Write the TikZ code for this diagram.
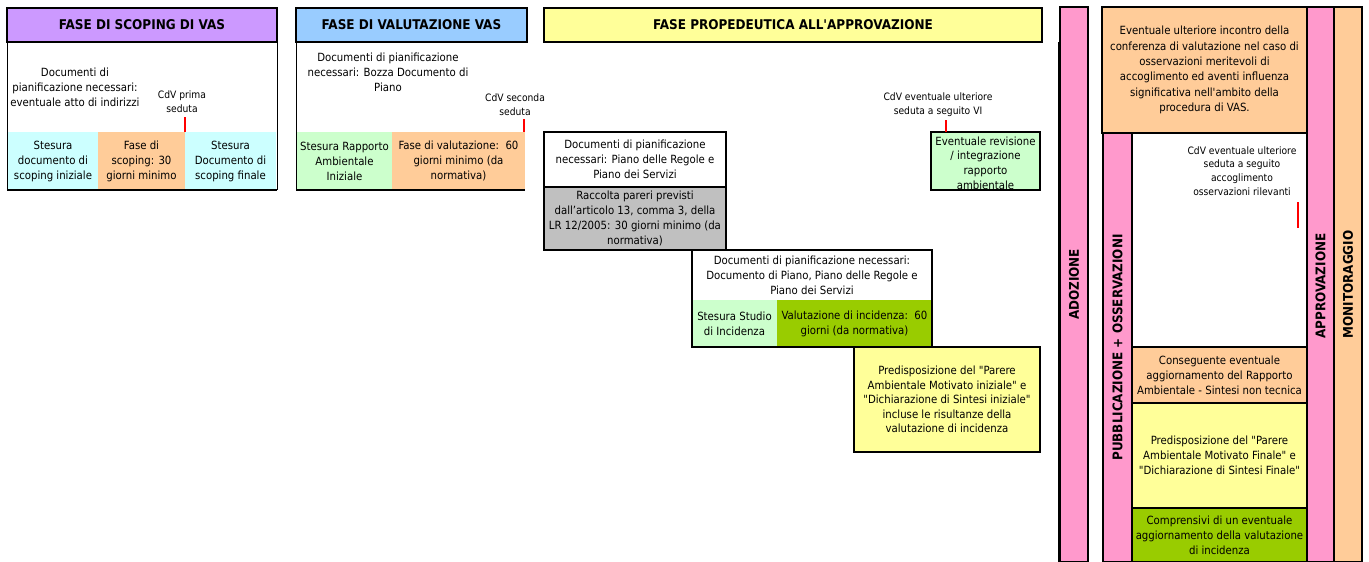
\documentclass[tikz,border=0pt]{standalone}
\usepackage{fontspec}
\setmainfont{DejaVu Sans Condensed}[Ligatures=TeXOff]
\definecolor{lilla}{HTML}{CC99FF}
\definecolor{azzurro}{HTML}{99CCFF}
\definecolor{giallo}{HTML}{FFFF99}
\definecolor{ciano}{HTML}{CCFFFF}
\definecolor{verdino}{HTML}{CCFFCC}
\definecolor{arancio}{HTML}{FFCC99}
\definecolor{grigio}{HTML}{C0C0C0}
\definecolor{verde}{HTML}{99CC00}
\definecolor{rosa}{HTML}{FF99CC}
\tikzset{
  txt/.style={align=center, inner sep=0pt, text=black, font=\fontsize{11.3}{15}\selectfont},
  small/.style={align=center, inner sep=0pt, font=\fontsize{10.2}{13.8}\selectfont},
  head/.style={inner sep=0pt, text=black, font=\fontsize{13.4}{15}\selectfont\bfseries},
  vlab/.style={rotate=90, inner sep=0pt, font=\fontsize{13.3}{15}\selectfont\bfseries},
  frame/.style={line width=2.5pt},
  bar/.style={line width=2pt},
  tick/.style={red, line width=2.5pt},
}
\begin{document}
\begin{tikzpicture}[x=1pt,y=-1pt]
  \useasboundingbox (0,0) rectangle (1369,562);

  \fill[fill=ciano] (8,132) rectangle (98,190) node (sc1) [pos=.5, txt] {Stesura\\documento di\\scoping iniziale};
  \fill[fill=arancio] (98,132) rectangle (185,190) node (sc2) [pos=.5, txt] {Fase di\\scoping: 30\\giorni minimo};
  \fill[fill=ciano] (185,132) rectangle (276,190) node (sc3) [pos=.5, txt] {Stesura\\Documento di\\scoping finale};
  \draw[line width=1pt] (7,42) -- (7,190) (277,42) -- (277,190);
  \draw[frame] (7,190) -- (277,190);
  \draw[fill=lilla, frame] (7,8) rectangle (277,42) node (scop) [pos=.5, head] {FASE DI SCOPING DI VAS};
  \node (scdoc) [txt] at (75,87) {Documenti di\\pianificazione necessari:\\eventuale atto di indirizzi};
  \node (cdv1) [small] at (182,102) {CdV prima\\seduta};
  \draw[tick] (185,117) -- (185,132);

  \fill[fill=verdino] (297,132) rectangle (392,190) node (va1) [pos=.5, txt] {Stesura Rapporto\\Ambientale\\Iniziale};
  \fill[fill=arancio] (392,132) rectangle (525,190) node (va2) [pos=.5, txt] {Fase di valutazione:~~60\\giorni minimo (da\\normativa)};
  \draw[line width=1pt] (296,42) -- (296,190);
  \draw[frame] (296,190) -- (525,190);
  \draw[fill=azzurro, frame] (296,8) rectangle (527,42) node (valu) [pos=.5, head] {FASE DI VALUTAZIONE VAS};
  \node (vadoc) [txt] at (388,72) {Documenti di pianificazione\\necessari: Bozza Documento di\\Piano};
  \node (cdv2) [small] at (515,105) {CdV seconda\\seduta};
  \draw[tick] (524,119) -- (524,132);

  \draw[fill=giallo, frame] (544,8) rectangle (1042,42) node (prop) [pos=.5, head] {FASE PROPEDEUTICA ALL'APPROVAZIONE};
  \draw[line width=1.5pt] (1059,42) -- (1059,562);
  \draw[fill=grigio, frame] (544,187) rectangle (726,250) node (racc) [pos=.5, txt] {Raccolta pareri previsti\\dall’articolo 13, comma 3, della\\LR 12/2005: 30 giorni minimo (da\\normativa)};
  \draw[fill=white, frame] (544,132) rectangle (726,187) node (prdoc) [pos=.5, txt] {Documenti di pianificazione\\necessari: Piano delle Regole e\\Piano dei Servizi};
  \fill[fill=verdino] (692,300) rectangle (777,347) node (inc1) [pos=.5, txt] {Stesura Studio\\di Incidenza};
  \fill[fill=verde] (777,300) rectangle (932,347) node (inc2) [pos=.5, txt] {Valutazione di incidenza:~~60\\giorni (da normativa)};
  \draw[frame] (692,250) rectangle (932,347) node (incdoc) [pos=.5, yshift=23pt, txt] {Documenti di pianificazione necessari:\\Documento di Piano, Piano delle Regole e\\Piano dei Servizi};
  \draw[fill=giallo, frame] (854,347) rectangle (1040,452) node (pam) [pos=.5, txt, font=\fontsize{11.3}{14.4}\selectfont] {Predisposizione del "Parere\\Ambientale Motivato iniziale" e\\"Dichiarazione di Sintesi iniziale"\\incluse le risultanze della\\valutazione di incidenza};
  \draw[fill=verdino, frame] (931,132) rectangle (1040,190) node (rev) [pos=.5, yshift=-2pt, txt, font=\fontsize{11.3}{14.6}\selectfont] {Eventuale revisione\\/ integrazione\\rapporto\\ambientale};
  \node (cdv3) [small] at (938,105) {CdV eventuale ulteriore\\seduta a seguito VI};
  \draw[tick] (946,120) -- (946,132);

  \draw[fill=rosa, bar] (1060,7) rectangle (1088,562) node (ado) [pos=.5, vlab] {ADOZIONE};

  \draw[fill=arancio, frame] (1102,7) rectangle (1307,133) node (inco) [pos=.5, txt, font=\fontsize{11.3}{15.3}\selectfont] {Eventuale ulteriore incontro della\\conferenza di valutazione nel caso di\\osservazioni meritevoli di\\accoglimento ed aventi influenza\\significativa nell'ambito della\\procedura di VAS.};
  \draw[fill=rosa, bar] (1103,133) rectangle (1132,562) node (pub) [pos=.5, vlab] {PUBBLICAZIONE + OSSERVAZIONI};
  \draw[fill=white, bar] (1132,133) rectangle (1307,347);
  \node (cdv4) [small] at (1242,171) {CdV eventuale ulteriore\\seduta a seguito\\accoglimento\\osservazioni rilevanti};
  \draw[tick] (1298,202) -- (1298,228);
  \draw[fill=arancio, bar] (1132,347) rectangle (1307,403) node (agg) [pos=.5, txt] {Conseguente eventuale\\aggiornamento del Rapporto\\Ambientale - Sintesi non tecnica};
  \draw[fill=giallo, bar] (1132,403) rectangle (1307,508) node (pamf) [pos=.5, txt] {Predisposizione del "Parere\\Ambientale Motivato Finale" e\\"Dichiarazione di Sintesi Finale"};
  \draw[fill=verde, bar] (1132,508) rectangle (1307,562) node (comp) [pos=.5, txt] {Comprensivi di un eventuale\\aggiornamento della valutazione\\di incidenza};
  \draw[fill=rosa, bar] (1307,7) rectangle (1334,562) node (appr) [pos=.5, yshift=-1.5pt, vlab] {APPROVAZIONE};
  \draw[fill=arancio, bar] (1334,7) rectangle (1362,562) node (moni) [pos=.5, vlab] {MONITORAGGIO};
\end{tikzpicture}
\end{document}
